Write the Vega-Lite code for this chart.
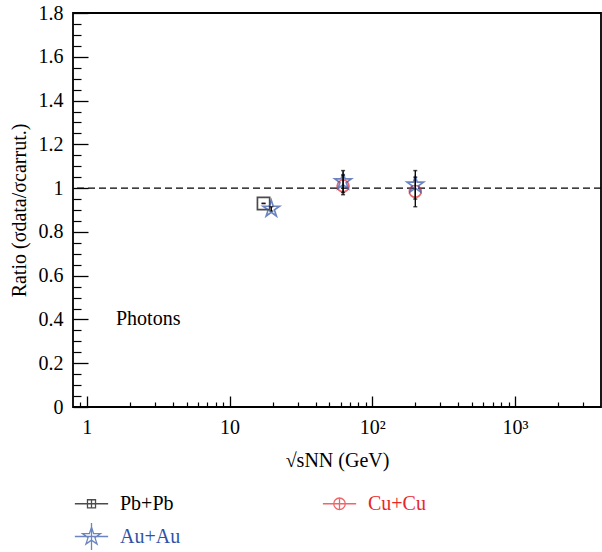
{
  "$schema": "https://vega.github.io/schema/vega-lite/v6.json",
  "autosize": {"type": "none"},
  "padding": {"left": 73, "top": 13, "right": 1, "bottom": 145},
  "width": 528,
  "height": 394,
  "datasets": {
    "pts": [
      {"system": "Pb+Pb", "s": 17.3, "r": 0.93, "lo": 0.93, "hi": 0.93},
      {"system": "Au+Au", "s": 19.6, "r": 0.905, "lo": 0.895, "hi": 0.915},
      {"system": "Cu+Cu", "s": 62.4, "r": 1.01, "lo": 0.97, "hi": 1.06},
      {"system": "Au+Au", "s": 62.4, "r": 1.03, "lo": 0.98, "hi": 1.08},
      {"system": "Cu+Cu", "s": 200, "r": 0.985, "lo": 0.915, "hi": 1.05},
      {"system": "Au+Au", "s": 200, "r": 1.015, "lo": 0.95, "hi": 1.08}
    ],
    "lab": [{"text": "Photons", "s": 1.6, "r": 0.4}]
  },
  "layer": [
    {
      "data": {"values": [{"v": 1}]},
      "mark": {"type": "rule", "strokeDash": [7, 4], "strokeWidth": 1.3, "color": "black"},
      "encoding": {"y": {"field": "v", "type": "quantitative", "axis": null}}
    },
    {
      "data": {"name": "pts"},
      "mark": {"type": "point", "filled": false, "strokeWidth": 1.7},
      "encoding": {
        "x": {"field": "s", "type": "quantitative", "scale": {"type": "log", "domain": [0.8, 4000], "nice": false},
          "axis": {"orient": "bottom", "values": [1, 10, 100, 1000], "ticks": false, "domain": false, "grid": false,
            "labelExpr": "datum.value==1?'1':datum.value==10?'10':datum.value==100?'10²':'10³'",
            "labelPadding": 10, "title": "√sNN (GeV)", "titlePadding": 13}},
        "y": {"field": "r", "type": "quantitative", "scale": {"domain": [0, 1.8], "nice": false},
          "axis": {"orient": "left", "values": [0, 0.2, 0.4, 0.6, 0.8, 1, 1.2, 1.4, 1.6, 1.8], "ticks": false, "domain": false, "grid": false,
            "labelExpr": "format(datum.value, '~g')", "labelPadding": 10, "title": "Ratio (σdata/σcarrut.)", "titlePadding": 9}},
        "color": {"field": "system", "type": "nominal",
          "scale": {"domain": ["Pb+Pb", "Cu+Cu", "Au+Au"], "range": ["black", "#e8262a", "#2f52a8"]},
          "legend": {"orient": "none", "legendX": 0, "legendY": 472, "direction": "horizontal", "columns": 2, "title": null,
            "symbolSize": 1225, "symbolStrokeWidth": 1.3, "labelFontSize": 20, "labelOffset": 10, "columnPadding": 139,
            "rowPadding": 4, "padding": 0,
            "symbolType": {"expr": "datum.value==='Pb+Pb' ? 'M-0.95,0H0.95M0,-0.23V0.23M-0.23,-0.23H0.23V0.23H-0.23Z' : datum.value==='Cu+Cu' ? 'M-0.95,0H0.95M0,-0.33V0.33M-0.33,0A0.33,0.33,0,1,0,0.33,0A0.33,0.33,0,1,0,-0.33,0Z' : 'M-0.95,0H0.95M0,-0.77V0.77M0,-0.54L0.1213,-0.1669L0.5135,-0.1669L0.1962,0.0637L0.3174,0.4369L0,0.2063L-0.3174,0.4369L-0.1962,0.0637L-0.5135,-0.1669L-0.1213,-0.1669Z'"},
            "labelColor": {"expr": "datum.value==='Cu+Cu' ? '#e8262a' : datum.value==='Au+Au' ? '#2f52a8' : 'black'"}}},
        "shape": {"field": "system", "type": "nominal",
          "scale": {"domain": ["Au+Au", "Pb+Pb", "Cu+Cu"], "range": ["M0,-1L0.2245,-0.309L0.951,-0.309L0.363,0.118L0.588,0.809L0,0.382L-0.588,0.809L-0.363,0.118L-0.951,-0.309L-0.2245,-0.309Z", "square", "circle"]},
          "legend": null},
        "size": {"field": "system", "type": "nominal",
          "scale": {"type": "ordinal", "domain": ["Cu+Cu", "Au+Au", "Pb+Pb"], "range": [140, 300, 150]}, "legend": null}
      }
    },
    {
      "data": {"name": "pts"},
      "mark": {"type": "rule", "color": "black", "strokeWidth": 1.3},
      "encoding": {
        "x": {"field": "s", "type": "quantitative",
          "axis": {"orient": "bottom", "values": [1, 10, 100, 1000], "tickSize": -11, "tickWidth": 1.3, "tickColor": "black", "labels": false, "domain": false, "grid": false, "title": null}},
        "y": {"field": "lo", "type": "quantitative",
          "axis": {"orient": "left", "values": [0, 0.2, 0.4, 0.6, 0.8, 1, 1.2, 1.4, 1.6, 1.8], "tickSize": -15, "tickWidth": 1.3, "tickColor": "black", "labels": false, "domain": false, "grid": false, "title": null}},
        "y2": {"field": "hi"}
      }
    },
    {
      "data": {"name": "pts"},
      "mark": {"type": "tick", "orient": "horizontal", "size": 4, "thickness": 1.5, "color": "black"},
      "encoding": {
        "x": {"field": "s", "type": "quantitative",
          "axis": {"orient": "bottom", "values": [0.9, 2, 3, 4, 5, 6, 7, 8, 9, 20, 30, 40, 50, 60, 70, 80, 90, 200, 300, 400, 500, 600, 700, 800, 900, 2000, 3000], "tickSize": -5, "tickWidth": 1.2, "tickColor": "black", "labels": false, "domain": false, "grid": false, "title": null}},
        "y": {"field": "lo", "type": "quantitative",
          "axis": {"orient": "left", "values": [0.05, 0.1, 0.15, 0.25, 0.3, 0.35, 0.45, 0.5, 0.55, 0.65, 0.7, 0.75, 0.85, 0.9, 0.95, 1.05, 1.1, 1.15, 1.25, 1.3, 1.35, 1.45, 1.5, 1.55, 1.65, 1.7, 1.75], "tickSize": -8, "tickWidth": 1.2, "tickColor": "black", "labels": false, "domain": false, "grid": false, "title": null}}
      }
    },
    {
      "data": {"name": "pts"},
      "mark": {"type": "tick", "orient": "horizontal", "size": 4, "thickness": 1.5, "color": "black"},
      "encoding": {
        "x": {"field": "s", "type": "quantitative", "axis": null},
        "y": {"field": "hi", "type": "quantitative", "axis": null}
      }
    },
    {
      "data": {"name": "lab"},
      "mark": {"type": "text", "align": "left", "baseline": "middle", "fontSize": 20, "color": "black"},
      "encoding": {
        "x": {"field": "s", "type": "quantitative", "axis": null},
        "y": {"field": "r", "type": "quantitative", "axis": null},
        "text": {"field": "text"}
      }
    }
  ],
  "resolve": {"axis": {"x": "independent", "y": "independent"}},
  "config": {
    "font": "Liberation Serif",
    "view": {"stroke": "black", "strokeWidth": 1.8},
    "axis": {"labelFont": "Liberation Serif", "labelFontSize": 20, "labelColor": "black", "titleFont": "Liberation Serif", "titleFontSize": 20, "titleFontWeight": "normal", "titleColor": "black"},
    "legend": {"labelFont": "Liberation Serif"},
    "text": {"font": "Liberation Serif"}
  }
}
